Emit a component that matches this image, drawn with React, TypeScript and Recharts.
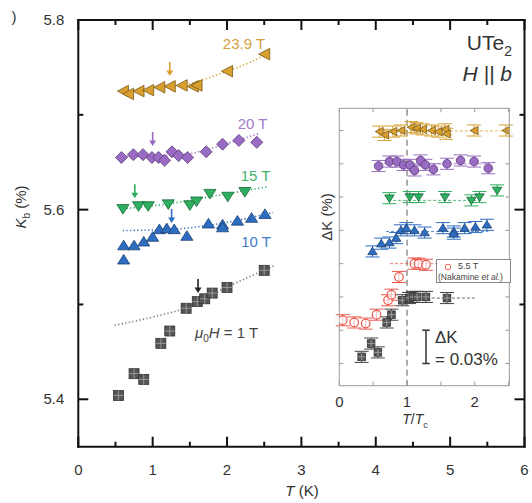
import { ComposedChart, Scatter, Line, XAxis, YAxis, ReferenceLine, ErrorBar } from "recharts";

const FONT = '"Liberation Sans", Arial, Helvetica, sans-serif';

// ---- main panel: K_b (%) vs T (K) ----
const MAIN_X_TICKS = [0, 0.5, 1, 1.5, 2, 2.5, 3, 3.5, 4, 4.5, 5, 5.5, 6];
const MAIN_X_LABELS = [0, 1, 2, 3, 4, 5, 6];
const MAIN_Y_TICKS = [5.4, 5.5, 5.6, 5.7, 5.8];
const MAIN_Y_LABELS = [5.4, 5.6, 5.8];

const K_239T = [[0.6, 5.725], [0.67, 5.722], [0.81, 5.725], [0.94, 5.726], [1.09, 5.729], [1.23, 5.73], [1.39, 5.731], [1.54, 5.73], [1.59, 5.731], [2.0, 5.746], [2.5, 5.764]];
const K_20T = [[0.58, 5.655], [0.74, 5.658], [0.87, 5.658], [0.99, 5.655], [1.08, 5.655], [1.16, 5.652], [1.26, 5.661], [1.35, 5.657], [1.47, 5.655], [1.72, 5.661], [1.94, 5.669], [2.16, 5.673], [2.4, 5.671]];
const K_15T = [[0.6, 5.601], [0.81, 5.604], [0.94, 5.604], [1.21, 5.606], [1.5, 5.605], [1.59, 5.609], [1.77, 5.617], [2.01, 5.614], [2.24, 5.619]];
const K_10T = [[0.61, 5.547], [0.61, 5.562], [0.75, 5.562], [0.88, 5.566], [1.0, 5.571], [1.09, 5.579], [1.19, 5.58], [1.29, 5.579], [1.46, 5.572], [1.75, 5.585], [1.94, 5.584], [1.94, 5.581], [2.14, 5.588], [2.33, 5.591], [2.51, 5.595]];
const K_1T = [[0.54, 5.404], [0.75, 5.427], [0.88, 5.421], [1.11, 5.459], [1.23, 5.472], [1.45, 5.496], [1.6, 5.503], [1.7, 5.506], [1.8, 5.512], [2.0, 5.518], [2.5, 5.536]];

// dotted guide curves
const FIT_239T = [[0.62, 5.723], [1.0, 5.727], [1.5, 5.733], [2.0, 5.746], [2.3, 5.755], [2.6, 5.767]];
const FIT_20T = [[0.6, 5.656], [1.2, 5.657], [1.5, 5.659], [1.8, 5.665], [2.1, 5.672], [2.42, 5.68]];
const FIT_15T = [[0.6, 5.601], [1.2, 5.606], [1.8, 5.614], [2.53, 5.624]];
const FIT_10T = [[0.6, 5.578], [1.2, 5.579], [1.8, 5.584], [2.62, 5.597]];
const FIT_1T = [[0.49, 5.478], [0.96, 5.486], [1.43, 5.496], [1.99, 5.518], [2.64, 5.541]];

// Tc arrows (tip position)
const ARROW_239T = [[1.23, 5.741]];
const ARROW_20T = [[1.0, 5.667]];
const ARROW_15T = [[0.76, 5.612]];
const ARROW_10T = [[1.255, 5.586]];
const ARROW_1T = [[1.61, 5.512]];

// ---- inset: dK (%) vs T/Tc ----
const INSET_X_TICKS = [0, 0.5, 1, 1.5, 2, 2.5];
const INSET_X_LABELS = [0, 1, 2];
const INSET_Y_TICKS = [0.02, 0.05, 0.08, 0.11, 0.14, 0.17, 0.2, 0.23];
const INSET_ERR = 0.005;

const D_239T = [[0.59, 0.229], [0.67, 0.226], [0.79, 0.229], [0.91, 0.23], [1.06, 0.233], [1.14, 0.232], [1.23, 0.231], [1.36, 0.23], [1.46, 0.229], [1.56, 0.231], [1.58, 0.227], [1.99, 0.23], [2.46, 0.23]];
const D_20T = [[0.58, 0.198], [0.74, 0.202], [0.85, 0.202], [0.95, 0.199], [1.04, 0.199], [1.11, 0.194], [1.2, 0.203], [1.27, 0.199], [1.39, 0.195], [1.59, 0.2], [1.79, 0.203], [1.99, 0.202], [2.2, 0.196]];
const D_15T = [[0.74, 0.169], [1.04, 0.17], [1.17, 0.17], [1.56, 0.17], [1.95, 0.167], [2.07, 0.17], [2.33, 0.176]];
const D_10T = [[0.49, 0.121], [0.62, 0.128], [0.74, 0.129], [0.84, 0.133], [0.91, 0.14], [0.99, 0.142], [1.11, 0.14], [1.26, 0.138], [1.53, 0.142], [1.69, 0.139], [1.69, 0.137], [1.85, 0.142], [2.01, 0.143], [2.18, 0.145]];
const D_NAKAMINE = [[0.05, 0.059], [0.22, 0.057], [0.39, 0.056], [0.55, 0.064], [0.72, 0.077], [0.77, 0.082], [0.88, 0.098], [1.11, 0.11], [1.17, 0.11], [1.28, 0.109]];
const D_1T = [[0.33, 0.026], [0.47, 0.038], [0.57, 0.03], [0.7, 0.057], [0.77, 0.064], [0.93, 0.077], [1.03, 0.079], [1.09, 0.08], [1.15, 0.08], [1.28, 0.08], [1.59, 0.079]];

const LEVEL_239T = [[0.6, 0.2296], [2.5, 0.2296]];
const LEVEL_20T = [[0.58, 0.2], [2.2, 0.2]];
const LEVEL_15T = [[0.72, 0.167], [2.1, 0.167]];
const LEVEL_10T = [[0.69, 0.139], [2.2, 0.139]];
const LEVEL_NAKAMINE = [[0.75, 0.11], [1.45, 0.11]];
const LEVEL_1T = [[0.85, 0.079], [2.0, 0.079]];

const SCALE_BAR_X = 1.28;
const SCALE_BAR_Y = [0.02, 0.05];

const GOLD = "#D9A030";
const PURPLE = "#9A6BC2";
const GREEN = "#2EAE5F";
const BLUE = "#2F6DC1";
const GRAY = "#555";
const RED = "#EE5A50";

const pts = (a: number[][]) => a.map(([x, y]) => ({ x, y }));
const ptsErr = (a: number[][]) => a.map(([x, y]) => ({ x, y, e: INSET_ERR }));
const isIn = (list: number[], v: number) => list.some((t) => Math.abs(t - v) < 1e-6);

type Kind = "left" | "diamond" | "down" | "up" | "square" | "circle" | "open";

function marker(kind: Kind, s: number, fill: string, edge: string) {
  return (p: any) => {
    const { cx, cy } = p;
    if (cx == null || cy == null) return <g />;
    switch (kind) {
      case "left":
        return <polygon points={`${cx - s},${cy} ${cx + s},${cy - s * 1.05} ${cx + s},${cy + s * 1.05}`} fill={fill} stroke={edge} strokeWidth={0.8} />;
      case "diamond":
        return <polygon points={`${cx - s},${cy} ${cx},${cy - s} ${cx + s},${cy} ${cx},${cy + s}`} fill={fill} stroke={edge} strokeWidth={0.8} />;
      case "down":
        return <polygon points={`${cx - s * 1.1},${cy - s * 0.75} ${cx + s * 1.1},${cy - s * 0.75} ${cx},${cy + s}`} fill={fill} stroke={edge} strokeWidth={0.8} />;
      case "up":
        return <polygon points={`${cx - s * 1.1},${cy + s * 0.75} ${cx + s * 1.1},${cy + s * 0.75} ${cx},${cy - s}`} fill={fill} stroke={edge} strokeWidth={0.8} />;
      case "square":
        return (
          <g>
            <rect x={cx - s} y={cy - s} width={s * 2} height={s * 2} fill={fill} stroke={edge} strokeWidth={0.8} />
            <line x1={cx - s} x2={cx + s} y1={cy} y2={cy} stroke="#aaa" strokeWidth={0.8} />
            <line x1={cx} x2={cx} y1={cy - s} y2={cy + s} stroke="#aaa" strokeWidth={0.8} />
          </g>
        );
      case "circle":
        return <circle cx={cx} cy={cy} r={s} fill={fill} stroke={edge} strokeWidth={0.8} />;
      default:
        return <circle cx={cx} cy={cy} r={s} fill="#fff" fillOpacity={0.6} stroke={edge} strokeWidth={1.2} />;
    }
  };
}

function arrow(color: string) {
  return (p: any) => {
    const { cx, cy } = p;
    if (cx == null || cy == null) return <g />;
    return (
      <g>
        <line x1={cx} x2={cx} y1={cy - 14} y2={cy - 4} stroke={color} strokeWidth={1.6} />
        <polygon points={`${cx - 3.5},${cy - 5.5} ${cx + 3.5},${cy - 5.5} ${cx},${cy}`} fill={color} />
      </g>
    );
  };
}

const FRAME = { stroke: "#111", strokeWidth: 2, strokeLinecap: "square" as const };
const INSET_FRAME = { stroke: "#999", strokeWidth: 1 };

const mainBottomTick = (p: any) => {
  const major = isIn(MAIN_X_LABELS, p.payload.value);
  return (
    <g>
      <line x1={p.x} x2={p.x} y1={p.y} y2={p.y - (major ? 10 : 5)} stroke="#111" strokeWidth={2} />
      {major && (
        <text x={p.x} y={p.y + 28} textAnchor="middle" fontSize={15} fill="#333" fontFamily={FONT}>
          {p.payload.value}
        </text>
      )}
    </g>
  );
};
const mainTopTick = (p: any) => {
  const major = isIn(MAIN_X_LABELS, p.payload.value);
  return <line x1={p.x} x2={p.x} y1={p.y} y2={p.y + (major ? 10 : 5)} stroke="#111" strokeWidth={2} />;
};
const mainLeftTick = (p: any) => {
  const major = isIn(MAIN_Y_LABELS, p.payload.value);
  return (
    <g>
      <line x1={p.x} x2={p.x + (major ? 10 : 5)} y1={p.y} y2={p.y} stroke="#111" strokeWidth={2} />
      {major && (
        <text x={p.x - 14} y={p.y + 5} textAnchor="end" fontSize={15} fill="#333" fontFamily={FONT}>
          {p.payload.value.toFixed(1)}
        </text>
      )}
    </g>
  );
};
const mainRightTick = (p: any) => {
  const major = isIn(MAIN_Y_LABELS, p.payload.value);
  return <line x1={p.x} x2={p.x - (major ? 10 : 5)} y1={p.y} y2={p.y} stroke="#111" strokeWidth={2} />;
};

const insetBottomTick = (p: any) => (
  <g>
    <line x1={p.x} x2={p.x} y1={p.y} y2={p.y - 4} stroke="#999" strokeWidth={1} />
    {isIn(INSET_X_LABELS, p.payload.value) && (
      <text x={p.x} y={p.y + 21} textAnchor="middle" fontSize={15} fill="#333" fontFamily={FONT}>
        {p.payload.value}
      </text>
    )}
  </g>
);
const insetTopTick = (p: any) => <line x1={p.x} x2={p.x} y1={p.y} y2={p.y + 4} stroke="#999" strokeWidth={1} />;
const insetLeftTick = (p: any) => <line x1={p.x} x2={p.x + 4} y1={p.y} y2={p.y} stroke="#999" strokeWidth={1} />;
const insetRightTick = (p: any) => <line x1={p.x} x2={p.x - 4} y1={p.y} y2={p.y} stroke="#999" strokeWidth={1} />;

const mainSeries = [
  { data: K_239T, fit: FIT_239T, arrow: ARROW_239T, kind: "left" as Kind, size: 5.5, fill: GOLD, edge: "#7a5a18" },
  { data: K_20T, fit: FIT_20T, arrow: ARROW_20T, kind: "diamond" as Kind, size: 6, fill: PURPLE, edge: "#5a3a7a" },
  { data: K_15T, fit: FIT_15T, arrow: ARROW_15T, kind: "down" as Kind, size: 5.5, fill: GREEN, edge: "#1b6a38" },
  { data: K_10T, fit: FIT_10T, arrow: ARROW_10T, kind: "up" as Kind, size: 5.5, fill: BLUE, edge: "#1a4176" },
  { data: K_1T, fit: FIT_1T, arrow: ARROW_1T, kind: "square" as Kind, size: 5, fill: GRAY, edge: "#333" },
];
const arrowColors = [GOLD, PURPLE, GREEN, BLUE, "#222"];
const fitColors = [GOLD, PURPLE, GREEN, BLUE, "#777"];

const insetSeries = [
  { data: D_239T, level: LEVEL_239T, kind: "left" as Kind, size: 4, fill: GOLD, edge: "#7a5a18", bar: GOLD },
  { data: D_20T, level: LEVEL_20T, kind: "circle" as Kind, size: 4.3, fill: PURPLE, edge: "#5a3a7a", bar: PURPLE },
  { data: D_15T, level: LEVEL_15T, kind: "down" as Kind, size: 4.3, fill: GREEN, edge: "#1b6a38", bar: GREEN },
  { data: D_10T, level: LEVEL_10T, kind: "up" as Kind, size: 4.3, fill: BLUE, edge: "#1a4176", bar: BLUE },
  { data: D_NAKAMINE, level: LEVEL_NAKAMINE, kind: "open" as Kind, size: 4.3, fill: "none", edge: RED, bar: RED },
  { data: D_1T, level: LEVEL_1T, kind: "square" as Kind, size: 3.8, fill: GRAY, edge: "#333", bar: "#444" },
];

function Txt(props: { x: number; y: number; anchor?: "start" | "middle" | "end"; size?: number; color?: string; italic?: boolean; rotate?: boolean; children: any }) {
  const { x, y, anchor = "middle", size = 15, color = "#333", italic, rotate, children } = props;
  const tx = anchor === "start" ? "0%" : anchor === "end" ? "-100%" : "-50%";
  return (
    <div
      style={{
        position: "absolute",
        left: x,
        top: y,
        transform: `translate(${tx}, -50%)${rotate ? " rotate(-90deg)" : ""}`,
        fontSize: size,
        color,
        fontStyle: italic ? "italic" : "normal",
        whiteSpace: "nowrap",
        lineHeight: 1,
        fontFamily: FONT,
      }}
    >
      {children}
    </div>
  );
}

export default function App() {
  return (
    <div style={{ position: "relative", width: 532, height: 503, background: "#fff", fontFamily: FONT }}>
      <style>{"body{margin:0}"}</style>
      <ComposedChart width={532} height={503} margin={{ top: 19, right: 6.5, bottom: 55.3, left: 77.3 }}>
        <XAxis type="number" dataKey="x" domain={[0, 6]} ticks={MAIN_X_TICKS} interval={0} height={1} tickSize={0} tickMargin={0} tickLine={false} axisLine={FRAME} tick={mainBottomTick} allowDataOverflow />
        <XAxis xAxisId="top" orientation="top" type="number" dataKey="x" domain={[0, 6]} ticks={MAIN_X_TICKS} interval={0} height={1} tickSize={0} tickMargin={0} tickLine={false} axisLine={FRAME} tick={mainTopTick} allowDataOverflow />
        <YAxis type="number" dataKey="y" domain={[5.35, 5.8]} ticks={MAIN_Y_TICKS} interval={0} width={1} tickSize={0} tickMargin={0} tickLine={false} axisLine={FRAME} tick={mainLeftTick} allowDataOverflow />
        <YAxis yAxisId="right" orientation="right" type="number" dataKey="y" domain={[5.35, 5.8]} ticks={MAIN_Y_TICKS} interval={0} width={1} tickSize={0} tickMargin={0} tickLine={false} axisLine={FRAME} tick={mainRightTick} allowDataOverflow />
        {mainSeries.map((s, i) => (
          <Line key={`fit${i}`} data={pts(s.fit)} dataKey="y" type="monotone" stroke={fitColors[i]} strokeWidth={1.6} strokeDasharray="1.2 2.4" dot={false} activeDot={false} isAnimationActive={false} />
        ))}
        {mainSeries.map((s, i) => (
          <Scatter key={`pts${i}`} data={pts(s.data)} shape={marker(s.kind, s.size, s.fill, s.edge)} isAnimationActive={false} />
        ))}
        {mainSeries.map((s, i) => (
          <Scatter key={`arr${i}`} data={pts(s.arrow)} shape={arrow(arrowColors[i])} isAnimationActive={false} />
        ))}
      </ComposedChart>

      <div style={{ position: "absolute", left: 310, top: 100 }}>
        <ComposedChart width={215} height={335} margin={{ top: 7.3, right: 14.7, bottom: 48.3, left: 28.3 }}>
          <XAxis type="number" dataKey="x" domain={[0, 2.51]} ticks={INSET_X_TICKS} interval={0} height={1} tickSize={0} tickMargin={0} tickLine={false} axisLine={INSET_FRAME} tick={insetBottomTick} allowDataOverflow />
          <XAxis xAxisId="top" orientation="top" type="number" dataKey="x" domain={[0, 2.51]} ticks={INSET_X_TICKS} interval={0} height={1} tickSize={0} tickMargin={0} tickLine={false} axisLine={INSET_FRAME} tick={insetTopTick} allowDataOverflow />
          <YAxis type="number" dataKey="y" domain={[0, 0.25]} ticks={INSET_Y_TICKS} interval={0} width={1} tickSize={0} tickMargin={0} tickLine={false} axisLine={INSET_FRAME} tick={insetLeftTick} allowDataOverflow />
          <YAxis yAxisId="right" orientation="right" type="number" dataKey="y" domain={[0, 0.25]} ticks={INSET_Y_TICKS} interval={0} width={1} tickSize={0} tickMargin={0} tickLine={false} axisLine={INSET_FRAME} tick={insetRightTick} allowDataOverflow />
          <ReferenceLine x={1} stroke="#777" strokeWidth={1.2} strokeDasharray="6 4" />
          {insetSeries.map((s, i) => (
            <Line key={`lv${i}`} data={pts(s.level)} dataKey="y" type="linear" stroke={s.bar} strokeOpacity={0.8} strokeWidth={1} strokeDasharray="3 2" dot={false} activeDot={false} isAnimationActive={false} />
          ))}
          {insetSeries.map((s, i) => (
            <Scatter key={`ip${i}`} data={ptsErr(s.data)} shape={marker(s.kind, s.size, s.fill, s.edge)} isAnimationActive={false}>
              <ErrorBar dataKey="e" direction="y" width={7} stroke={s.bar} strokeWidth={1} />
            </Scatter>
          ))}
          <ReferenceLine segment={[{ x: SCALE_BAR_X, y: SCALE_BAR_Y[0] }, { x: SCALE_BAR_X, y: SCALE_BAR_Y[1] }]} stroke="#333" strokeWidth={1.5} />
          <ReferenceLine segment={[{ x: SCALE_BAR_X - 0.055, y: SCALE_BAR_Y[0] }, { x: SCALE_BAR_X + 0.055, y: SCALE_BAR_Y[0] }]} stroke="#333" strokeWidth={1.5} />
          <ReferenceLine segment={[{ x: SCALE_BAR_X - 0.055, y: SCALE_BAR_Y[1] }, { x: SCALE_BAR_X + 0.055, y: SCALE_BAR_Y[1] }]} stroke="#333" strokeWidth={1.5} />
        </ComposedChart>
      </div>

      {/* legend box of the inset */}
      <div style={{ position: "absolute", left: 436, top: 259, width: 75, height: 24, border: "1px solid #888", background: "#fff", boxSizing: "border-box" }}>
        <svg width={12} height={12} style={{ position: "absolute", left: 5, top: 1 }}>
          <circle cx={6} cy={6} r={2.8} fill="none" stroke={RED} strokeWidth={1} />
        </svg>
        <div style={{ position: "absolute", left: 21, top: 2, fontSize: 9, color: "#444", lineHeight: 1 }}>5.5 T</div>
        <div style={{ position: "absolute", left: 1, top: 13, fontSize: 8.5, color: "#444", lineHeight: 1, whiteSpace: "nowrap" }}>
          (Nakamine <i>et al.</i>)
        </div>
      </div>

      <Txt x={14} y={16} size={15}>)</Txt>
      <Txt x={244} y={43} size={15} color="#D6A040">23.9 T</Txt>
      <Txt x={252.5} y={123} size={15} color="#A57CCB">20 T</Txt>
      <Txt x={255.5} y={175} size={15} color="#3DB56A">15 T</Txt>
      <Txt x={256} y={241} size={15} color="#3F7CCB">10 T</Txt>
      <Txt x={195} y={334} anchor="start" size={15} color="#444">
        <i>μ</i><sub style={{ fontSize: 10 }}>0</sub><i>H</i> = 1 T
      </Txt>
      <Txt x={512} y={45} anchor="end" size={21} color="#333">
        UTe<sub style={{ fontSize: 14 }}>2</sub>
      </Txt>
      <Txt x={512} y={73} anchor="end" size={21} color="#333" italic>
        H || b
      </Txt>
      <Txt x={22} y={207} size={15} rotate>
        <i>K</i><sub style={{ fontSize: 10 }}>b</sub> (%)
      </Txt>
      <Txt x={302} y={490} size={15}>
        <i>T</i> (K)
      </Txt>
      <Txt x={326} y={217} size={15} rotate>
        ΔK (%)
      </Txt>
      <Txt x={415} y={421} size={14}>
        <i>T</i>/<i>T</i><sub style={{ fontSize: 9 }}>c</sub>
      </Txt>
      <Txt x={435} y={337} anchor="start" size={17}>ΔK</Txt>
      <Txt x={435} y={359} anchor="start" size={17}>= 0.03%</Txt>
    </div>
  );
}
